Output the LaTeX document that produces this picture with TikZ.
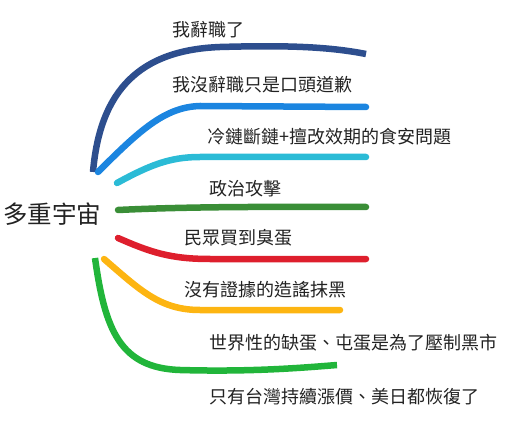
\documentclass[tikz,border=0pt]{standalone}
\usepackage{fontspec}
\setmainfont{Noto Sans CJK TC}
\usetikzlibrary{positioning}
\definecolor{navyline}{HTML}{2D4E8E}
\definecolor{blueline}{HTML}{1B85E0}
\definecolor{cyanline}{HTML}{2BBBD6}
\definecolor{forestline}{HTML}{3A8E37}
\definecolor{redline}{HTML}{DE1F2D}
\definecolor{orangeline}{HTML}{FDB512}
\definecolor{greenline}{HTML}{21B53A}
\definecolor{inktext}{HTML}{222222}
\begin{document}
\begin{tikzpicture}[
    x=1pt, y=-1pt,
    root/.style={rectangle, draw=none, fill=none, inner sep=0pt,
        font=\fontsize{24.5}{26}\selectfont, text=inktext},
    topic/.style={rectangle, draw=none, fill=none, inner sep=0pt, anchor=west,
        font=\fontsize{18}{20}\selectfont, text=inktext},
    branch/.style={line width=6.5pt, line cap=round}
]
\useasboundingbox (0,0) rectangle (529,427);
\node (Root) [root] at (52,214) {多重宇宙};

% topics
\node (T1) [topic] at (172,30) {我辭職了};
\node (T2) [topic] at (172,85) {我沒辭職只是口頭道歉};
\node (T3) [topic] at (207,137) {冷鏈斷鏈+擅改效期的食安問題};
\node (T4) [topic] at (209,189) {政治攻擊};
\node (T5) [topic] at (184,238) {民眾買到臭蛋};
\node (T6) [topic] at (184,290) {沒有證據的造謠抹黑};
\node (T7) [topic] at (209,343) {世界性的缺蛋、屯蛋是為了壓制黑市};
\node (T8) [topic] at (209,397) {只有台灣持續漲價、美日都恢復了};

% branch ends
\coordinate (S1) at (93,172);  \coordinate (E1) at (366,54);
\coordinate (S2) at (98,172);  \coordinate (E2) at (366,107);
\coordinate (S3) at (117,183); \coordinate (E3) at (366,157);
\coordinate (S4) at (118,210); \coordinate (E4) at (366,207);
\coordinate (S5) at (118,238); \coordinate (E5) at (366,259);
\coordinate (S6) at (104,259); \coordinate (E6) at (340,310);
\coordinate (S7) at (95,258);  \coordinate (E7) at (337,365);

\draw [branch, navyline, line cap=butt] (S1) .. controls (100,90) and (140,50) .. (220,47)
    .. controls (290,45) and (330,47) .. (E1);
\draw [branch, blueline] (S2) .. controls (140,130) and (165,107) .. (200,106) -- (E2);
\draw [branch, cyanline] (S3) .. controls (150,165) and (170,157) .. (200,157) -- (E3);
\draw [branch, forestline] (S4) .. controls (200,206) and (300,207) .. (E4);
\draw [branch, redline] (S5) .. controls (150,252) and (170,259) .. (210,259) -- (E5);
\draw [branch, orangeline] (S6) .. controls (140,290) and (160,310) .. (200,310) -- (E6);
\draw [branch, greenline, line cap=butt] (S7) .. controls (105,330) and (120,368) .. (180,370)
    .. controls (250,372) and (300,368) .. (E7);
\end{tikzpicture}
\end{document}
